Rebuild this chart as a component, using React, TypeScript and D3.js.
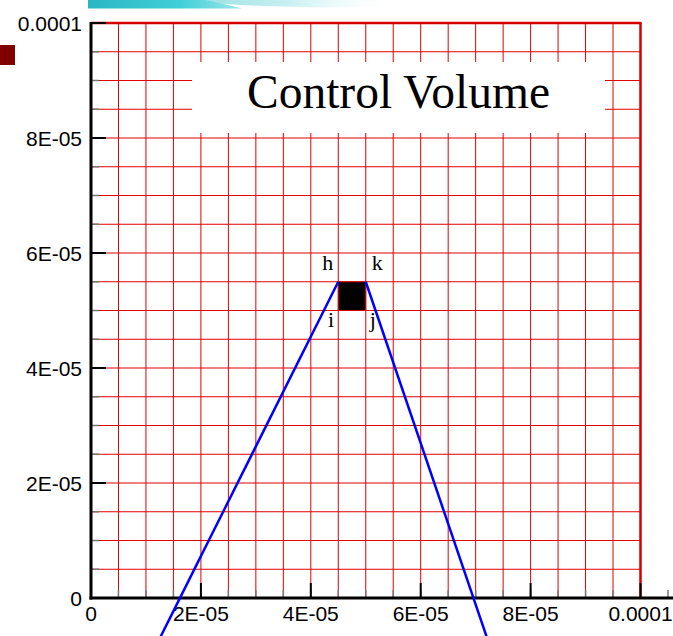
import React from "react";
import * as d3 from "d3";

// Axis tick values
const xMajorTicks = [0, 2e-5, 4e-5, 6e-5, 8e-5, 1e-4];
const yMajorTicks = [0, 2e-5, 4e-5, 6e-5, 8e-5, 1e-4];
const xTickLabels = ["0", "2E-05", "4E-05", "6E-05", "8E-05", "0.0001"];
const yTickLabels = ["0", "2E-05", "4E-05", "6E-05", "8E-05", "0.0001"];

// Mesh spacing
const gridStep = 5e-6;
const gridCount = 20;

// Highlighted control-volume cell [x0, x1, y0, y1]
const cellX = [4.5e-5, 5e-5];
const cellY = [5e-5, 5.5e-5];

// Blue boundary lines (data coords)
const leftLine = [
  { x: 1.2e-5, y: -8e-6 },
  { x: 4.5e-5, y: 5.5e-5 },
];
const rightLine = [
  { x: 5e-5, y: 5.5e-5 },
  { x: 7.245e-5, y: -8e-6 },
];

// Corner labels
const cornerLabels = [
  { t: "h", x: 4.31e-5, y: 5.7e-5 },
  { t: "k", x: 5.21e-5, y: 5.7e-5 },
  { t: "i", x: 4.37e-5, y: 4.72e-5 },
  { t: "j", x: 5.13e-5, y: 4.72e-5 },
];

const title = "Control Volume";

const W = 673;
const H = 636;

export default function App() {
  const x = d3.scaleLinear().domain([0, 1e-4]).range([91, 640.5]);
  const y = d3.scaleLinear().domain([0, 1e-4]).range([598, 23]);

  const gridVals = d3.range(gridCount + 1).map((i) => i * gridStep);
  const xMinor = d3.range(gridCount + 2).map((i) => i * gridStep);
  const yMinor = gridVals;

  const line = d3
    .line<{ x: number; y: number }>()
    .x((d) => x(d.x))
    .y((d) => y(d.y));

  const sans = "'Liberation Sans', Arial, sans-serif";
  const serif = "'Liberation Serif', 'Times New Roman', serif";

  const x0 = x(0);
  const x1 = x(1e-4);
  const y0 = y(0);
  const y1 = y(1e-4);

  return (
    <div style={{ position: "absolute", left: 0, top: 0 }}>
      <svg width={W} height={H} style={{ display: "block" }}>
        <defs>
          <linearGradient id="tealDark" x1="0" x2="1" y1="0" y2="0">
            <stop offset="0" stopColor="#2bb6c4" />
            <stop offset="0.6" stopColor="#40cfd8" />
            <stop offset="1" stopColor="#9fe6ea" />
          </linearGradient>
          <linearGradient id="tealLight" x1="0" x2="1" y1="0" y2="0">
            <stop offset="0" stopColor="#8fdde2" />
            <stop offset="0.5" stopColor="#c9f0f2" />
            <stop offset="1" stopColor="#ffffff" stopOpacity="0" />
          </linearGradient>
        </defs>
        <rect width={W} height={H} fill="#fff" />

        {/* slide decorations */}
        <path d="M180,0 L400,0 L400,6 C330,9 260,7 195,2 Z" fill="url(#tealLight)" />
        <path d="M88,0 L205,0 C220,3 232,6 242,8.5 L88,8.5 Z" fill="url(#tealDark)" />
        <rect x={0} y={45} width={15} height={20} fill="#800000" />

        {/* mesh */}
        <g stroke="#e00000" strokeWidth={1}>
          {gridVals.map((v, i) => (
            <line key={"gx" + i} x1={x(v)} x2={x(v)} y1={y0} y2={y1} />
          ))}
          {gridVals.map((v, i) => (
            <line key={"gy" + i} x1={x0} x2={x1} y1={y(v)} y2={y(v)} />
          ))}
        </g>
        <line x1={x0} x2={x1 + 1} y1={y1} y2={y1} stroke="#d40000" strokeWidth={2.5} />
        <line x1={x1} x2={x1} y1={y1} y2={y0} stroke="#d40000" strokeWidth={2.5} />

        {/* title box */}
        <rect x={192} y={62} width={413} height={71} fill="#fff" />
        <text
          x={398.5}
          y={108}
          textAnchor="middle"
          fontFamily={serif}
          fontSize={47.5}
          fill="#000"
        >
          {title}
        </text>

        {/* control volume cell */}
        <rect
          x={x(cellX[0])}
          y={y(cellY[1])}
          width={x(cellX[1]) - x(cellX[0])}
          height={y(cellY[0]) - y(cellY[1])}
          fill="#000"
          stroke="#e00000"
          strokeWidth={1}
        />

        {/* axes */}
        <g>
          {xMinor.map((v, i) => (
            <line key={"xm" + i} x1={x(v)} x2={x(v)} y1={y0} y2={y0 - 8} stroke="#777" strokeWidth={1.5} />
          ))}
          {yMinor.map((v, i) => (
            <line key={"ym" + i} x1={x0} x2={x0 + 8} y1={y(v)} y2={y(v)} stroke="#777" strokeWidth={1.5} />
          ))}
          {xMajorTicks.map((v, i) => (
            <line key={"xM" + i} x1={x(v)} x2={x(v)} y1={y0} y2={y0 - 15} stroke="#000" strokeWidth={2} />
          ))}
          {yMajorTicks.map((v, i) => (
            <line key={"yM" + i} x1={x0} x2={x0 + 15} y1={y(v)} y2={y(v)} stroke="#000" strokeWidth={2} />
          ))}
          <line x1={x0} x2={x0} y1={y1 - 1} y2={y0 + 1.5} stroke="#000" strokeWidth={3} />
          <line x1={x0 - 1.5} x2={673} y1={y0} y2={y0} stroke="#000" strokeWidth={3} />
        </g>

        {/* tick labels */}
        <g fontFamily={sans} fontSize={21} fill="#000">
          {xMajorTicks.map((v, i) => (
            <text key={"xl" + i} x={x(v)} y={621} textAnchor="middle">
              {xTickLabels[i]}
            </text>
          ))}
          {yMajorTicks.map((v, i) => (
            <text key={"yl" + i} x={82} y={y(v)} dy="0.36em" textAnchor="end">
              {yTickLabels[i]}
            </text>
          ))}
        </g>

        {/* corner labels */}
        <g fontFamily={serif} fontSize={22} fill="#000">
          {cornerLabels.map((c) => (
            <text key={c.t} x={x(c.x)} y={y(c.y)} textAnchor="middle">
              {c.t}
            </text>
          ))}
        </g>

        {/* boundary lines */}
        <path d={line(leftLine) || ""} fill="none" stroke="#0000ff" strokeWidth={2.5} />
        <path d={line(rightLine) || ""} fill="none" stroke="#0000ff" strokeWidth={2.5} />
      </svg>
    </div>
  );
}
